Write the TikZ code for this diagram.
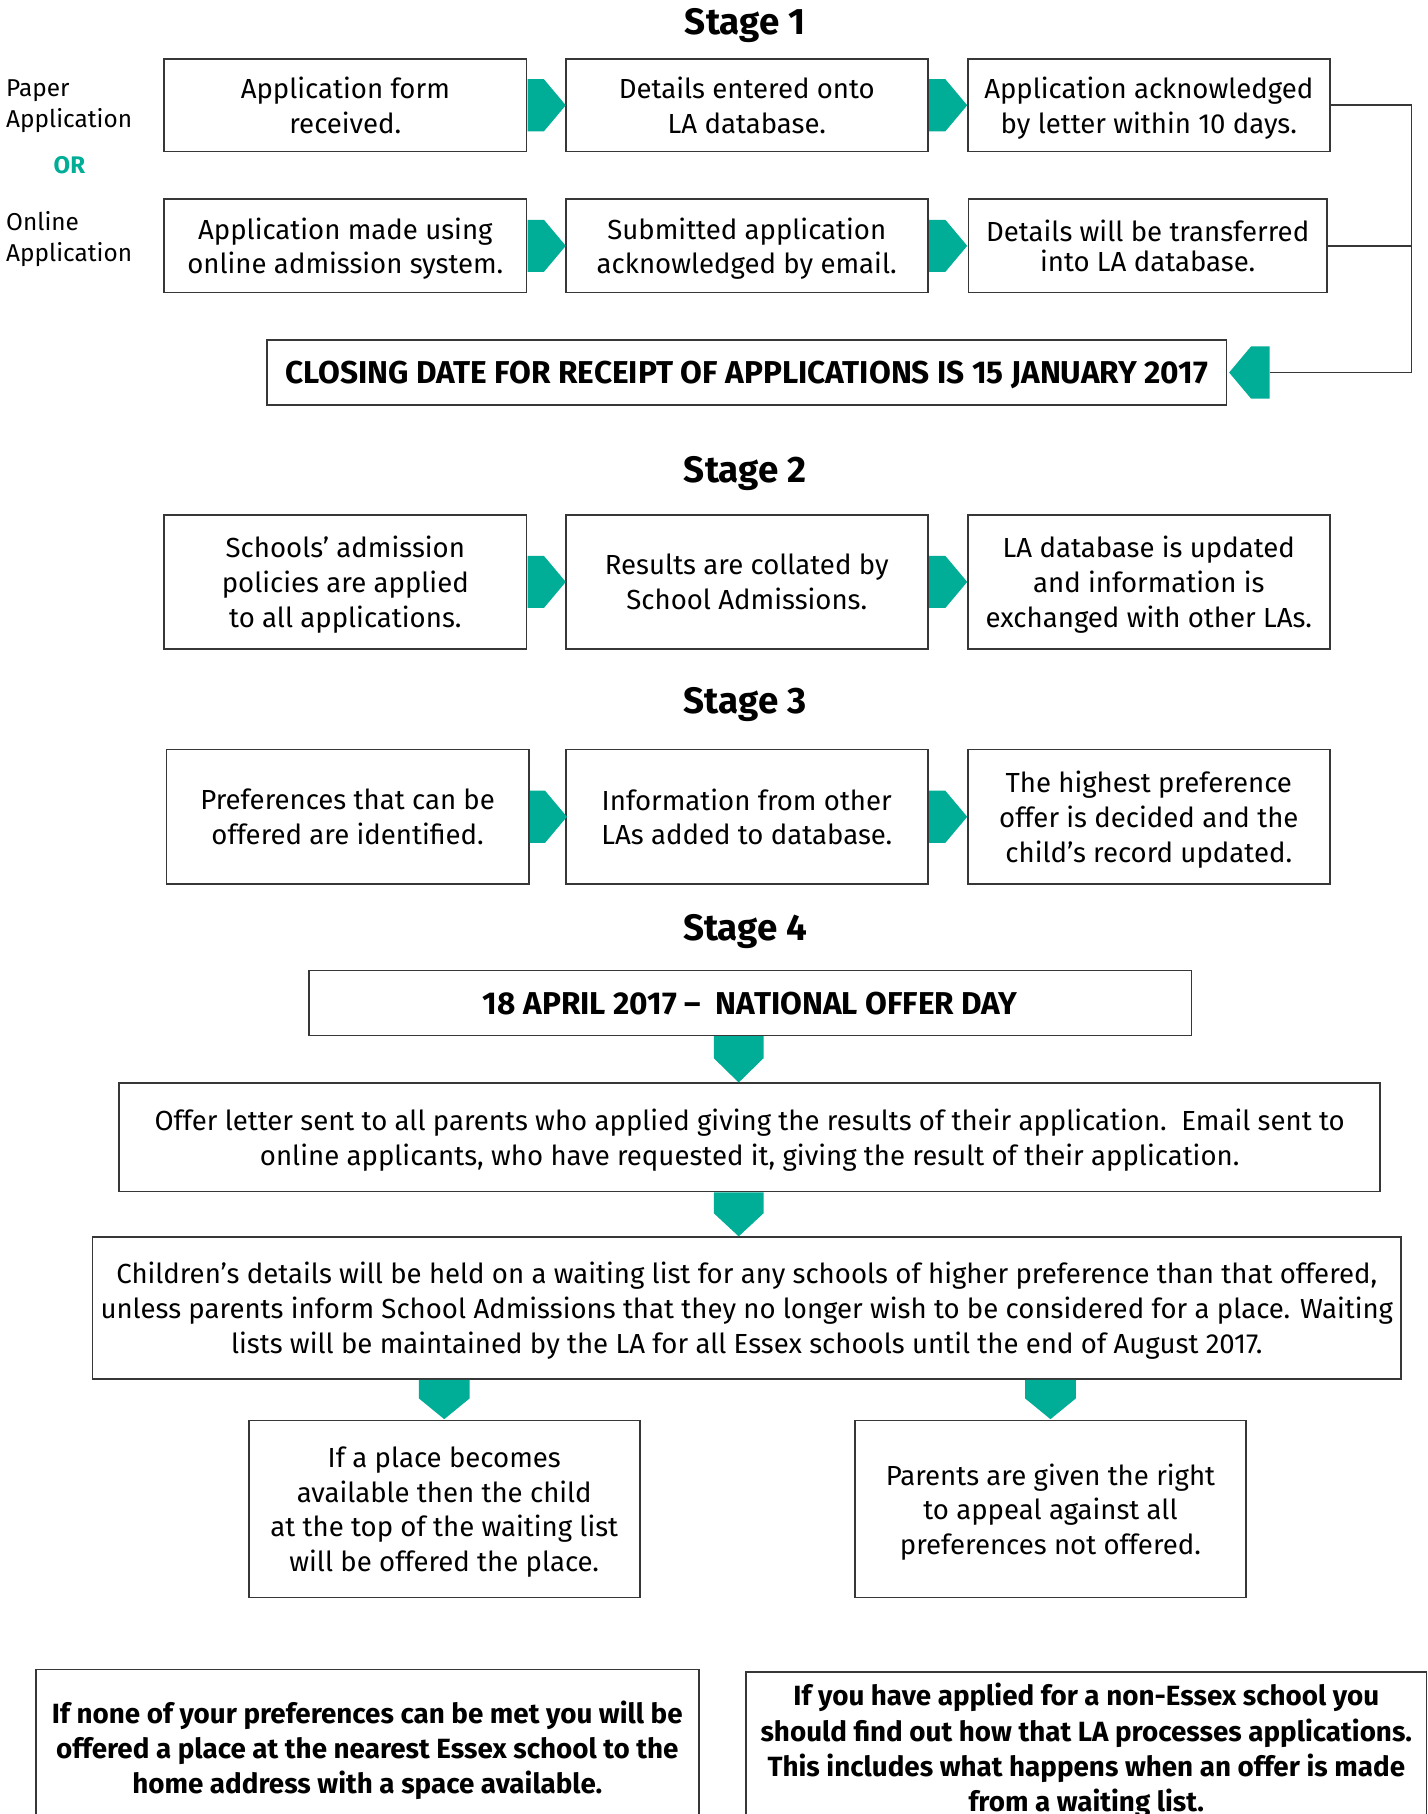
\documentclass[tikz,border=0pt]{standalone}
\usepackage{fontspec}
\setmainfont{Fira Sans}
\usetikzlibrary{shapes.symbols,calc}
\definecolor{tealA}{RGB}{0,173,151}
\definecolor{boxgray}{RGB}{55,55,55}
\def\pxu{0.5786pt}
\newcommand\boxfont{\fontsize{13.8}{17.4}\selectfont}
\newcommand\stagefont{\fontsize{18.4}{20}\selectfont\bfseries}
\newcommand\capsfont{\fontsize{15.8}{18}\selectfont\bfseries}
\newcommand\notefont{\fontsize{13.9}{17.6}\selectfont\bfseries}
\tikzset{
  box/.style={draw=boxgray, line width=0.8pt, align=center, inner sep=0pt, font=\boxfont, fill=white, text depth=0pt},
  rowbox/.style={box, minimum width=313*\pxu},
  rarr/.style={shape=signal, signal to=east, signal from=nowhere, fill=tealA, draw=none, inner sep=0pt,
    minimum width=33*\pxu, minimum height=45*\pxu, signal pointer angle=100},
  larr/.style={rarr, signal to=west},
  tealfill/.style={fill=tealA},
  stage/.style={font=\stagefont, inner sep=0pt},
  side/.style={font=\fontsize{12.2}{15.6}\selectfont, align=left, inner sep=0pt, anchor=west},
  conn/.style={draw=boxgray, line width=0.8pt},
}
\begin{document}
\begin{tikzpicture}[x=\pxu, y=-\pxu]
\useasboundingbox (0,0) rectangle (1234,1568);
\clip (0,0) rectangle (1234,1568);
\fill[white] (0,0) rectangle (1234,1568);

% ---------- Stage 1 ----------
\node[stage] (st1) at (644,22) {Stage 1};
\node[side] (paper) at (5,92) {Paper\\Application};
\node[font=\fontsize{12}{14}\selectfont\bfseries, text=tealA, inner sep=0pt] (or) at (60,143) {OR};
\node[side] (online) at (5,207) {Online\\Application};

\node[rowbox, minimum height=80*\pxu] (r1c1) at (298.5,91) {Application form\\received.};
\node[rowbox, minimum height=80*\pxu] (r1c2) at (645.5,91) {Details entered onto\\LA database.};
\node[rowbox, minimum height=80*\pxu] (r1c3) at (993,91) {Application acknowledged\\by letter within 10 days.};
\node[rarr, anchor=west] (a11) at (r1c1.east) {};
\node[rarr, anchor=west] (a12) at (r1c2.east) {};

\node[rowbox, minimum height=81*\pxu] (r2c1) at (298.5,212.5) {Application made using\\online admission system.};
\node[rowbox, minimum height=81*\pxu] (r2c2) at (645.5,212.5) {Submitted application\\acknowledged by email.};
\node[box, minimum width=310*\pxu, minimum height=81*\pxu] (r2c3) at (992,212.5) {Details will be transferred\\[-2.5pt]into LA database.};
\node[rarr, anchor=west] (a21) at (r2c1.east) {};
\node[rarr, anchor=west] (a22) at (r2c2.east) {};

\node[box, minimum width=829*\pxu, minimum height=56*\pxu, font=\capsfont] (close) at (645.5,322)
  {CLOSING DATE FOR RECEIPT OF APPLICATIONS IS 15 JANUARY 2017};
\node[larr, anchor=west, minimum width=35*\pxu] (carr) at (1062,322) {};
\coordinate (rline) at (1220,0);
\draw[conn] (r1c3.east) -- (r1c3.east -| rline) |- (carr.east);
\draw[conn] (r2c3.east) -- (r2c3.east -| rline);

% ---------- Stage 2 ----------
\node[stage] (st2) at (644,409) {Stage 2};
\node[rowbox, minimum height=116*\pxu] (s2c1) at (298.5,503) {Schools’ admission\\policies are applied\\to all applications.};
\node[rowbox, minimum height=116*\pxu] (s2c2) at (645.5,503) {Results are collated by\\School Admissions.};
\node[rowbox, minimum height=116*\pxu] (s2c3) at (993,503) {LA database is updated\\and information is\\exchanged with other LAs.};
\node[rarr, anchor=west] (b1) at (s2c1.east) {};
\node[rarr, anchor=west] (b2) at (s2c2.east) {};

% ---------- Stage 3 ----------
\node[stage] (st3) at (644,609) {Stage 3};
\node[rowbox, minimum height=116*\pxu] (s3c1) at (300.5,706) {Preferences that can be\\offered are identified.};
\node[rowbox, minimum height=116*\pxu] (s3c2) at (645.5,706) {Information from other\\LAs added to database.};
\node[rowbox, minimum height=116*\pxu] (s3c3) at (993,706) {The highest preference\\offer is decided and the\\child’s record updated.};
\node[rarr, anchor=west, minimum width=32*\pxu] (c1) at (s3c1.east) {};
\node[rarr, anchor=west] (c2) at (s3c2.east) {};

% ---------- Stage 4 ----------
\node[stage] (st4) at (644,805) {Stage 4};
\node[box, minimum width=763*\pxu, minimum height=56*\pxu, font=\capsfont] (day) at (648.5,867)
  {18 APRIL 2017 –\ \ NATIONAL OFFER DAY};
\node[box, minimum width=1090*\pxu, minimum height=94*\pxu] (offer) at (648,983)
  {Offer letter sent to all parents who applied giving the results of their application.\ \ Email sent to\\online applicants, who have requested it, giving the result of their application.};
\node[box, minimum width=1131*\pxu, minimum height=123*\pxu] (wait) at (645.5,1130.5)
  {Children’s details will be held on a waiting list for any schools of higher preference than that offered,\\unless parents inform School Admissions that they no longer wish to be considered for a place. Waiting\\lists will be maintained by the LA for all Essex schools until the end of August 2017.};
\node[box, minimum width=338*\pxu, minimum height=153*\pxu] (left) at (384,1304.5)
  {If a place becomes\\available then the child\\at the top of the waiting list\\will be offered the place.};
\node[box, minimum width=338*\pxu, minimum height=153*\pxu] (right) at (908,1304.5)
  {Parents are given the right\\to appeal against all\\preferences not offered.};

% down arrows (pentagons)
\fill[tealfill] (day.south -| 638.5,0) ++(-21.5,0) -- ++(43,0) -- ++(0,19) -- ++(-21.5,21) -- ++(-21.5,-21) -- cycle;
\fill[tealfill] (offer.south -| 638.5,0) ++(-21.5,0) -- ++(43,0) -- ++(0,18) -- ++(-21.5,20) -- ++(-21.5,-20) -- cycle;
\fill[tealfill] (wait.south -| left.north) ++(-22,0) -- ++(44,0) -- ++(0,16) -- ++(-22,18) -- ++(-22,-18) -- cycle;
\fill[tealfill] (wait.south -| right.north) ++(-22,0) -- ++(44,0) -- ++(0,16) -- ++(-22,18) -- ++(-22,-18) -- cycle;

% ---------- Notes ----------
\node[box, minimum width=573*\pxu, minimum height=134*\pxu, font=\notefont] (noteL) at (317.5,1510)
  {If none of your preferences can be met you will be\\offered a place at the nearest Essex school to the\\home address with a space available.};
\node[box, minimum width=588*\pxu, minimum height=131*\pxu, font=\notefont] (noteR) at (939,1510.5)
  {If you have applied for a non-Essex school you\\should find out how that LA processes applications.\\This includes what happens when an offer is made\\from a waiting list.};
\end{tikzpicture}
\end{document}
